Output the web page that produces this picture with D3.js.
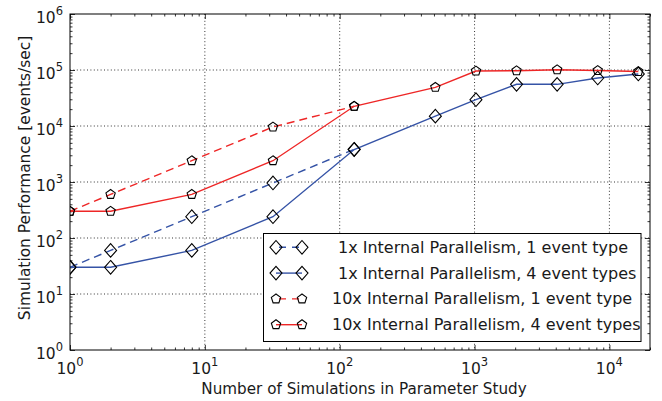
<!DOCTYPE html>
<html>
<head>
<meta charset="utf-8">
<script src="https://cdn.jsdelivr.net/npm/d3@7"></script>
<style>
  html, body { margin: 0; padding: 0; background: #fff; }
  svg { display: block; font-family: "DejaVu Sans", sans-serif; }
</style>
</head>
<body>
<svg id="chart" width="662" height="401"></svg>
<script>
// ---- data ----
const xShort = [1, 2, 8, 32, 128];
const xLong = [1, 2, 8, 32, 128, 512, 1024, 2048, 4096, 8192, 16384];
const par1Type1 = [30, 60, 240, 960, 3840];
const par1Type4 = [30, 30, 60, 240, 3800, 15000, 29500, 55500, 55500, 72000, 85000];
const par10Type1 = [300, 600, 2400, 9600, 22500];
const par10Type4 = [300, 300, 600, 2400, 22500, 49000, 96000, 97000, 101000, 98000, 94000];
const seriesNames = [
  "1x Internal Parallelism, 1 event type",
  "1x Internal Parallelism, 4 event types",
  "10x Internal Parallelism, 1 event type",
  "10x Internal Parallelism, 4 event types"
];
const xMajorTicks = [1, 10, 100, 1000, 10000];
const yMajorTicks = [1, 10, 100, 1000, 10000, 100000, 1000000];
const xAxisTitle = "Number of Simulations in Parameter Study";
const yAxisTitle = "Simulation Performance [events/sec]";

// ---- layout ----
const L = 70, R = 650, T = 14, B = 350;
const blue = "#3553a6", red = "#ee2626";

const svg = d3.select("#chart");
const x = d3.scaleLog().domain([1, 20000]).range([L, R]);
const y = d3.scaleLog().domain([1, 1e6]).range([B, T]);

function minors(maxV) {
  const out = [];
  for (let p = 1; p <= maxV; p *= 10)
    for (let k = 2; k <= 9; k++) if (p * k <= maxV) out.push(p * k);
  return out;
}
const xMinor = minors(20000);
const yMinor = minors(1e6);

svg.append("defs").append("clipPath").attr("id", "plotclip")
  .append("rect").attr("x", L).attr("y", T).attr("width", R - L).attr("height", B - T);

// grid
const grid = svg.append("g").attr("stroke", "#000").attr("stroke-width", 0.8)
  .attr("stroke-dasharray", "1,2.4");
grid.selectAll(".gx").data(xMajorTicks.filter(v => v > 1)).join("line")
  .attr("x1", d => x(d)).attr("x2", d => x(d)).attr("y1", T).attr("y2", B);
grid.selectAll(".gy").data(yMajorTicks.filter(v => v > 1 && v < 1e6)).join("line")
  .attr("y1", d => y(d)).attr("y2", d => y(d)).attr("x1", L).attr("x2", R);

// axes ticks (inward)
function addAxis(axisFn, scale, vals, size, transform) {
  const g = svg.append("g").attr("transform", transform)
    .call(axisFn(scale).tickValues(vals).tickSize(-size).tickFormat(""));
  g.select(".domain").remove();
  g.selectAll(".tick line").attr("stroke", "#000").attr("stroke-width", 0.8);
  return g;
}
addAxis(d3.axisBottom, x, xMajorTicks, 5, `translate(0,${B})`);
addAxis(d3.axisBottom, x, xMinor, 2.5, `translate(0,${B})`);
addAxis(d3.axisTop, x, xMajorTicks, 5, `translate(0,${T})`);
addAxis(d3.axisTop, x, xMinor, 2.5, `translate(0,${T})`);
addAxis(d3.axisLeft, y, yMajorTicks, 5, `translate(${L},0)`);
addAxis(d3.axisLeft, y, yMinor, 2.5, `translate(${L},0)`);
addAxis(d3.axisRight, y, yMajorTicks, 5, `translate(${R},0)`);
addAxis(d3.axisRight, y, yMinor, 2.5, `translate(${R},0)`);

// tick labels with superscripts
function powLabel(sel) {
  sel.each(function (d) {
    const t = d3.select(this);
    const e = Math.round(Math.log10(d));
    t.append("tspan").text("10");
    t.append("tspan").attr("font-size", 11.5).attr("dy", -8).text(e);
  });
}
svg.append("g").selectAll("text").data(xMajorTicks).join("text")
  .attr("x", d => x(d)).attr("y", B + 23.5).attr("text-anchor", "middle")
  .attr("font-size", 15.5).attr("fill", "#1a1a1a").call(powLabel);
svg.append("g").selectAll("text").data(yMajorTicks).join("text")
  .attr("x", 63).attr("y", d => y(d) + 8.5).attr("text-anchor", "end")
  .attr("font-size", 15.5).attr("fill", "#1a1a1a").call(powLabel);

// axis titles
svg.append("text").attr("x", 364).attr("y", 394)
  .attr("text-anchor", "middle").attr("font-size", 15.2).attr("fill", "#1a1a1a").text(xAxisTitle);
svg.append("text").attr("transform", `translate(29.5,178) rotate(-90)`)
  .attr("text-anchor", "middle").attr("font-size", 15.4).attr("fill", "#1a1a1a").text(yAxisTitle);

// series
const diamond = "M0,-6.8L6,0L0,6.8L-6,0Z";
const pentagon = (() => {
  const r = 4.9, pts = [];
  for (let i = 0; i < 5; i++) {
    const a = -Math.PI / 2 + i * 2 * Math.PI / 5;
    pts.push([r * Math.cos(a), r * Math.sin(a)]);
  }
  return "M" + pts.map(p => p.join(",")).join("L") + "Z";
})();

const series = [
  { xs: xShort, ys: par1Type1, color: blue, dash: "8,5", marker: diamond },
  { xs: xLong, ys: par1Type4, color: blue, dash: null, marker: diamond },
  { xs: xShort, ys: par10Type1, color: red, dash: "8,5", marker: pentagon },
  { xs: xLong, ys: par10Type4, color: red, dash: null, marker: pentagon }
];

const plot = svg.append("g").attr("clip-path", "url(#plotclip)");
const line = d3.line().x(d => x(d[0])).y(d => y(d[1]));
series.forEach(s => {
  const pts = s.xs.map((v, i) => [v, s.ys[i]]);
  plot.append("path").datum(pts).attr("d", line).attr("fill", "none")
    .attr("stroke", s.color).attr("stroke-width", 1.4)
    .attr("stroke-dasharray", s.dash);
  plot.selectAll(null).data(pts).join("path")
    .attr("d", s.marker)
    .attr("transform", d => `translate(${x(d[0])},${y(d[1])})`)
    .attr("fill", "none").attr("stroke", "#000").attr("stroke-width", 1.1);
});

// frame
svg.append("rect").attr("x", L).attr("y", T).attr("width", R - L).attr("height", B - T)
  .attr("fill", "none").attr("stroke", "#000").attr("stroke-width", 1);

// legend
const lg = svg.append("g");
lg.append("rect").attr("x", 263.5).attr("y", 233.5).attr("width", 377.5).attr("height", 108)
  .attr("fill", "#fff").attr("stroke", "#000").attr("stroke-width", 1);
series.forEach((s, i) => {
  const cy = 247.3 + i * 25.8;
  lg.append("line").attr("x1", 276).attr("x2", 302).attr("y1", cy).attr("y2", cy)
    .attr("stroke", s.color).attr("stroke-width", 1.4).attr("stroke-dasharray", s.dash ? "7,6" : null)
    .attr("stroke-dashoffset", s.dash ? -3 : null);
  [276, 302].forEach(mx => lg.append("path").attr("d", s.marker)
    .attr("transform", `translate(${mx},${cy})`)
    .attr("fill", "none").attr("stroke", "#000").attr("stroke-width", 1.1));
  lg.append("text").attr("x", i < 2 ? 338 : 332).attr("y", cy + 5.5)
    .attr("font-size", 16).attr("fill", "#1a1a1a").text(seriesNames[i]);
});
</script>
</body>
</html>
